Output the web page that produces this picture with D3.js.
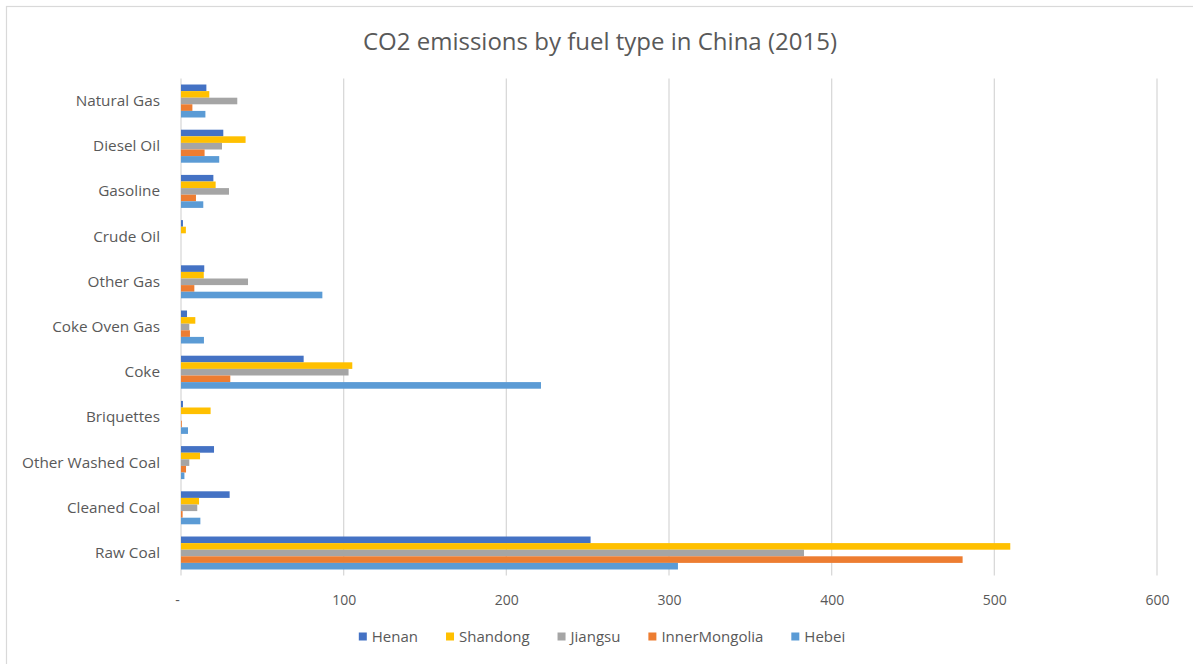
<!DOCTYPE html>
<html>
<head>
<meta charset="utf-8">
<script src="https://cdn.jsdelivr.net/npm/d3@7"></script>
<style>
  html, body { margin: 0; padding: 0; background: #fff; }
  svg { display: block; font-family: "Open Sans", "Noto Sans", sans-serif; }
</style>
</head>
<body>
<svg id="chart" width="1193" height="664"></svg>
<script>
// Fuel categories, listed top to bottom as drawn
const categories = ["Natural Gas", "Diesel Oil", "Gasoline", "Crude Oil", "Other Gas",
  "Coke Oven Gas", "Coke", "Briquettes", "Other Washed Coal", "Cleaned Coal", "Raw Coal"];

const seriesNames = ["Henan", "Shandong", "Jiangsu", "InnerMongolia", "Hebei"];
const seriesColors = ["#4472C4", "#FFC000", "#A5A5A5", "#ED7D31", "#5B9BD5"];

// Emissions (Mt CO2) per province, in category order
const henan         = [15.6, 26.0, 19.9, 1.2, 14.3, 3.7, 75.4, 1.2, 20.3, 29.9, 251.8];
const shandong      = [17.4, 39.7, 21.3, 3.0, 14.0, 8.8, 105.3, 18.2, 11.7, 11.1, 509.8];
const jiangsu       = [34.6, 25.2, 29.5, 0.0, 41.2, 5.1, 103.0, 0.0, 5.1, 10.0, 383.0];
const innerMongolia = [7.0, 14.5, 9.2, 0.0, 8.2, 5.5, 30.3, 0.5, 3.1, 1.0, 480.5];
const hebei         = [15.0, 23.5, 13.7, 0.0, 86.9, 14.1, 221.3, 4.3, 2.1, 11.9, 305.5];

const xTicks = [0, 100, 200, 300, 400, 500, 600];

const seriesValues = [henan, shandong, jiangsu, innerMongolia, hebei];

const svg = d3.select("#chart");
const W = 1193, H = 664;
const margin = { left: 181, right: 36, top: 78.4, bottom: 88.4 };
const plotW = W - margin.left - margin.right;
const plotH = H - margin.top - margin.bottom;
const textColor = "#595959";
const gridColor = "#D9D9D9";

// Outer chart frame
svg.append("rect")
  .attr("x", 6.5).attr("y", 6.5)
  .attr("width", W + 20).attr("height", H + 20)
  .attr("fill", "#fff").attr("stroke", gridColor).attr("stroke-width", 1.2);

// Title
svg.append("text")
  .attr("x", 600).attr("y", 50)
  .attr("text-anchor", "middle")
  .attr("fill", textColor)
  .attr("font-size", 24)
  .text("CO2 emissions by fuel type in China (2015)");

const x = d3.scaleLinear().domain([0, 600]).range([0, plotW]);
const y = d3.scaleBand().domain(categories).range([0, plotH]).paddingInner(0.27).paddingOuter(0.135);
const ySub = d3.scaleBand().domain(seriesNames).range([0, y.bandwidth()]);

const g = svg.append("g").attr("transform", `translate(${margin.left},${margin.top})`);

// Vertical gridlines
g.selectAll("line.grid")
  .data(xTicks)
  .join("line")
  .attr("class", "grid")
  .attr("x1", d => x(d)).attr("x2", d => x(d))
  .attr("y1", 0).attr("y2", plotH)
  .attr("stroke", gridColor).attr("stroke-width", 1.3);

// Bars grouped by category
const rows = categories.map((c, i) => ({
  cat: c,
  vals: seriesNames.map((s, j) => ({ s, v: seriesValues[j][i], color: seriesColors[j] }))
}));

const groups = g.selectAll("g.cat")
  .data(rows)
  .join("g")
  .attr("class", "cat")
  .attr("transform", d => `translate(0,${y(d.cat)})`);

groups.selectAll("rect")
  .data(d => d.vals)
  .join("rect")
  .attr("x", x(0))
  .attr("y", d => ySub(d.s))
  .attr("width", d => x(d.v) - x(0))
  .attr("height", ySub.bandwidth())
  .attr("fill", d => d.color);

// Category axis
const yAxis = g.append("g").call(d3.axisLeft(y).tickSize(0).tickPadding(21));
yAxis.select(".domain").remove();
yAxis.selectAll("text")
  .attr("fill", textColor)
  .attr("font-size", 15.3)
  .attr("font-family", "\"Open Sans\", sans-serif");

// Value axis
const xAxis = g.append("g")
  .attr("transform", `translate(0,${plotH})`)
  .call(d3.axisBottom(x).tickValues(xTicks).tickSize(0).tickPadding(19)
    .tickFormat(d => d === 0 ? "-" : d3.format("d")(d)));
xAxis.select(".domain").remove();
xAxis.selectAll("text")
  .attr("fill", textColor)
  .attr("font-size", 14)
  .attr("font-family", "\"Open Sans\", sans-serif");
xAxis.selectAll(".tick")
  .filter(d => d === 0)
  .select("text")
  .attr("dx", -4);

// Legend
const legend = svg.append("g").attr("transform", "translate(0,642)");
const items = legend.selectAll("g.item")
  .data(seriesNames.map((s, i) => ({ s, color: seriesColors[i] })))
  .join("g").attr("class", "item");
items.append("rect")
  .attr("width", 8).attr("height", 8)
  .attr("y", -9.5)
  .attr("fill", d => d.color);
items.append("text")
  .attr("x", 13).attr("y", 0)
  .attr("fill", textColor)
  .attr("font-size", 15)
  .text(d => d.s);

let cursor = 0;
const offsets = [];
const gap = 28;
items.each(function () {
  offsets.push(cursor);
  const w = this.querySelector("text").getComputedTextLength();
  cursor += 13 + w + gap;
});
const totalW = cursor - gap;
const startX = 602 - totalW / 2;
items.attr("transform", (d, i) => `translate(${startX + offsets[i]},0)`);
</script>
</body>
</html>
